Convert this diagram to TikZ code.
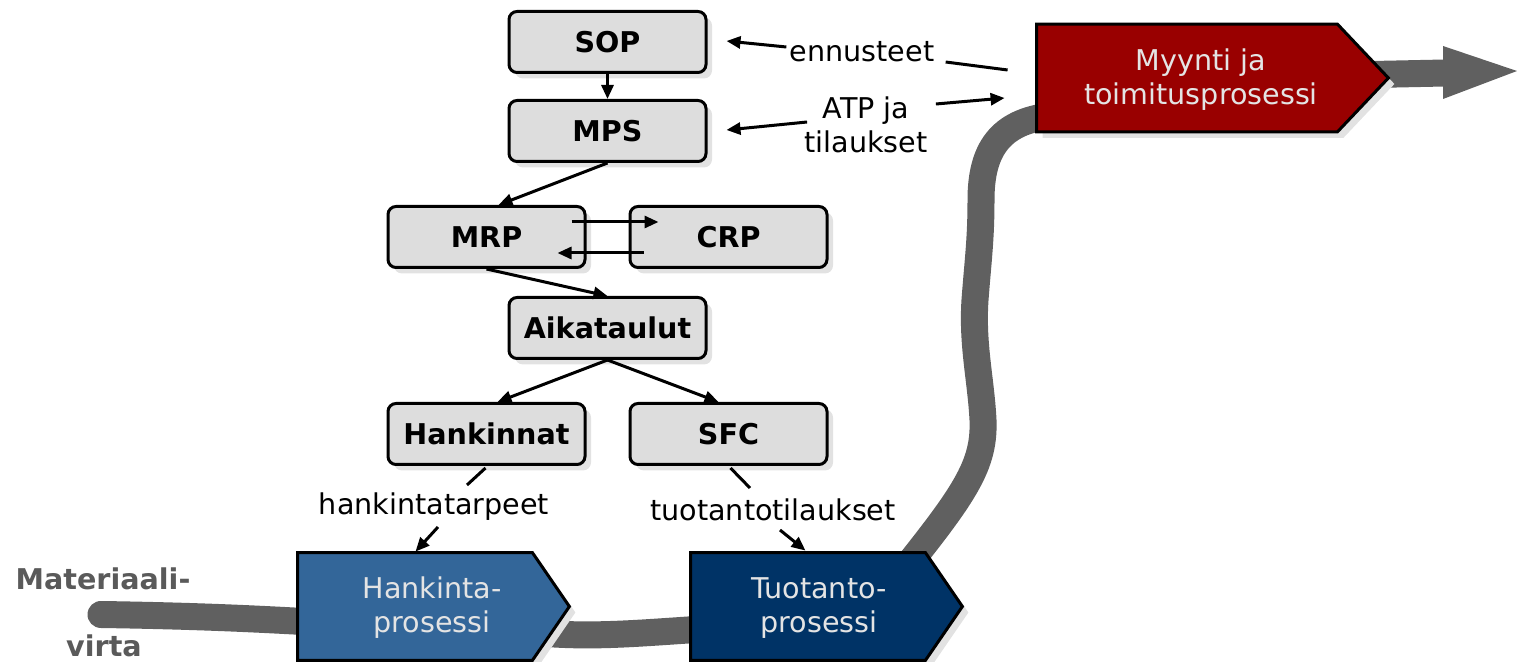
\documentclass[tikz,border=0pt]{standalone}
\usepackage{fontspec}
\setmainfont{DejaVu Sans}
\usetikzlibrary{calc,shadows,arrows.meta}

\definecolor{boxgray}{HTML}{DDDDDD}
\definecolor{flowgray}{HTML}{606060}
\definecolor{hankblue}{HTML}{336699}
\definecolor{tuotblue}{HTML}{003366}
\definecolor{myyred}{HTML}{990000}
\definecolor{proctext}{HTML}{E4E4E4}
\definecolor{shade}{HTML}{E2E2E2}
\definecolor{flowlabel}{HTML}{5A5A5A}

\begin{document}
\begin{tikzpicture}[x=0.5pt,y=-0.5pt,
  font=\fontsize{14.3}{17}\selectfont,
  softshadow/.style={drop shadow={shadow xshift=3pt,shadow yshift=-3pt,fill=shade,opacity=1}},
  plan/.style={draw=black,line width=1.5pt,fill=boxgray,rounded corners=4pt,
    minimum width=98.5pt,minimum height=30.5pt,inner sep=0pt,
    font=\fontsize{14.3}{17}\selectfont\bfseries,softshadow},
  link/.style={line width=1.5pt,-{Triangle[length=7pt,width=6pt]}},
  plain/.style={line width=1.5pt},
  tag/.style={inner sep=0pt,align=center},
  procarea/.style={minimum width=#1,minimum height=53.5pt,inner sep=0pt},
  procline/.style={draw=black,line width=1.5pt,softshadow},
  proclabel/.style={text=proctext,align=center,inner sep=0pt},
  flow/.style={draw=flowgray,line width=13.5pt}
]
\useasboundingbox (0,0) rectangle (1517,662);

% planning hierarchy
\node[plan] (sop)   at (607.5,42)  {SOP};
\node[plan] (mps)   at (607.5,131) {MPS};
\node[plan] (mrp)   at (486.5,237) {MRP};
\node[plan] (crp)   at (728.5,237) {CRP};
\node[plan] (aik)   at (607.5,328) {Aikataulut};
\node[plan] (hankn) at (486.5,434) {Hankinnat};
\node[plan] (sfc)   at (728.5,434) {SFC};

% material flow behind the process blocks
\draw[flow,line cap=round] (101,614.5) .. controls (200,616) and (260,619) .. (330,623)
  -- (540,633) .. controls (600,638) and (650,632) .. (720,628)
  -- (880,600) .. controls (960,500) and (985,470) .. (983,420)
  .. controls (981,380) and (972,345) .. (975,300)
  .. controls (978,260) and (981,240) .. (981,200)
  .. controls (981,150) and (1000,122) .. (1050,116) -- (1200,100);
\draw[flow] (1300,76) -- (1445,73);
\fill[flowgray] (1443,46) -- (1517,71) -- (1443,99) -- cycle;

% process blocks
\node[procarea=135.5pt] (hproc) at (433.5,606.5) {};
\node[procarea=135.5pt] (tproc) at (826.5,606.5) {};
\node[procarea=175.5pt] (mproc) at (1212.5,78)   {};
\draw[procline,fill=hankblue] (hproc.north west) -- ($(hproc.north east)+(-37,0)$)
  -- (hproc.east) -- ($(hproc.south east)+(-37,0)$) -- (hproc.south west) -- cycle;
\draw[procline,fill=tuotblue] (tproc.north west) -- ($(tproc.north east)+(-37,0)$)
  -- (tproc.east) -- ($(tproc.south east)+(-37,0)$) -- (tproc.south west) -- cycle;
\draw[procline,fill=myyred] (mproc.north west) -- ($(mproc.north east)+(-51,0)$)
  -- (mproc.east) -- ($(mproc.south east)+(-51,0)$) -- (mproc.south west) -- cycle;
\node[proclabel] (htxt) at (432,608)  {Hankinta-\\prosessi};
\node[proclabel] (ttxt) at (819,608)  {Tuotanto-\\prosessi};
\node[proclabel] (mtxt) at (1201,80)  {Myynti ja\\toimitusprosessi};

% flow caption
\node[tag,text=flowlabel,font=\fontsize{14.3}{17}\selectfont\bfseries] (mat) at (103,579) {Materiaali-};
\node[tag,text=flowlabel,font=\fontsize{14.3}{17}\selectfont\bfseries] (vir) at (104,646) {virta};

% information labels
\node[tag] (enn)  at (862,52)  {ennusteet};
\node[tag] (atp)  at (866,125) {ATP ja\\tilaukset};
\node[tag] (hlab) at (434,507) {hankintatarpeet};
\node[tag] (tlab) at (773,510) {tuotantotilaukset};

% connectors inside the planning hierarchy
\draw[link] (sop.south) -- (mps.north);
\draw[link] (mps.south) -- ($(mrp.north)+(12,0)$);
\draw[link] ($(mrp.east)+(-15,-15)$) -- ($(crp.west)+(30,-15)$);
\draw[link] ($(crp.west)+(15,16)$) -- ($(mrp.east)+(-29,16)$);
\draw[link] (mrp.south) -- (aik.north);
\draw[link] (aik.south) -- ($(hankn.north)+(11,0)$);
\draw[link] (aik.south) -- ($(sfc.north)+(-10,0)$);

% connectors to and from the labels
\draw[link] ($(enn.west)+(-3,-5)$) -- ($(sop.east)+(19,-1)$);
\draw[plain] ($(enn.east)+(11,10)$) -- ($(mproc.west)+(-29,-8)$);
\draw[link] ($(atp.west)+(3,-3)$) -- ($(mps.east)+(19,-1)$);
\draw[link] ($(atp.east)+(8,-21)$) -- ($(mproc.west)+(-32,20)$);
\draw[plain] ($(hankn.south)+(-1,2)$) -- ($(hlab)+(33,-22)$);
\draw[link] ($(hlab)+(4,20)$) -- ($(hproc.north)+(-18,-1)$);
\draw[plain] ($(sfc.south)+(2,2)$) -- ($(tlab)+(-23,-22)$);
\draw[link] ($(tlab)+(7,20)$) -- ($(tproc.north)+(-21,-2)$);
\end{tikzpicture}
\end{document}
